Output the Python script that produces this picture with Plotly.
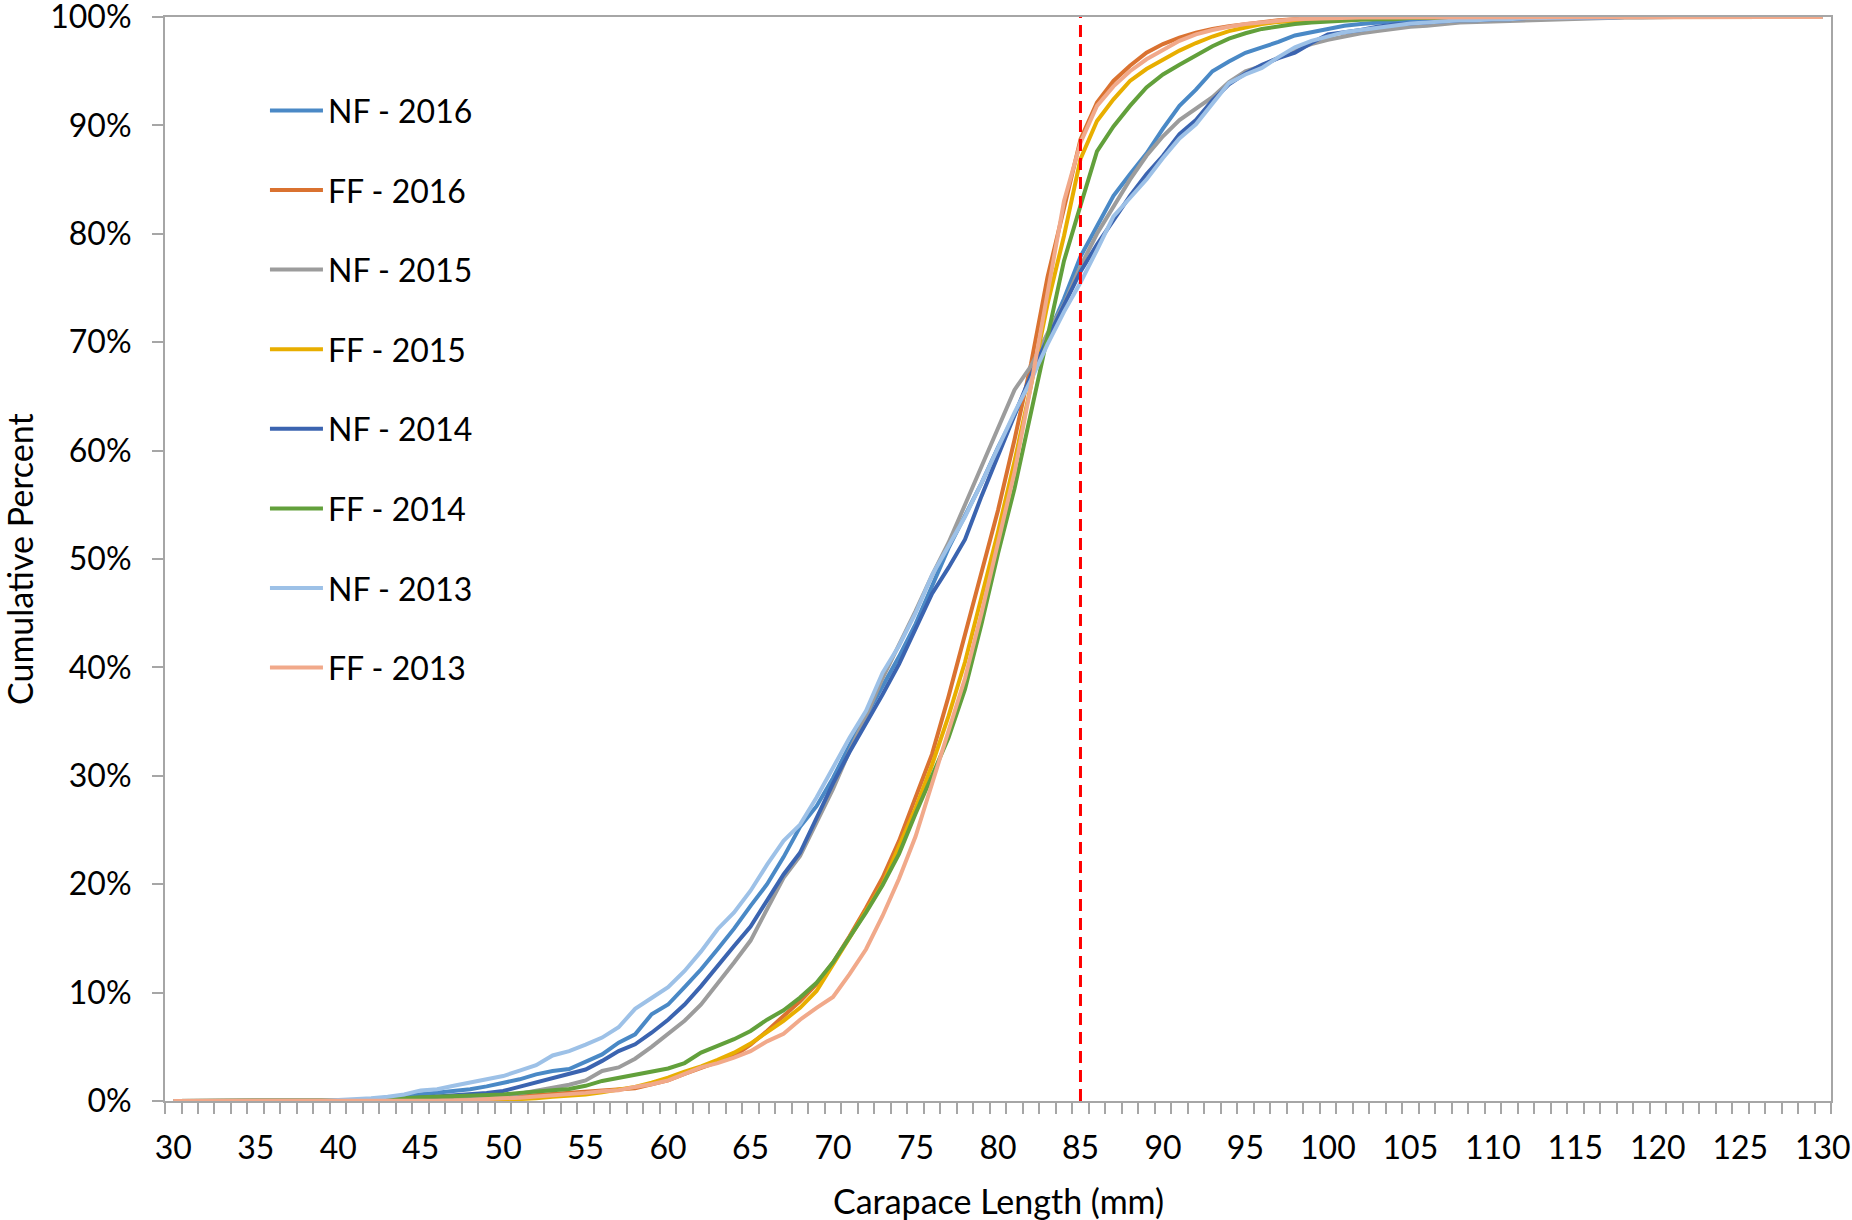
import plotly.graph_objects as go

x_vals = list(range(30, 131))

def fill(d):
    # d: dict of x -> value; x values not listed repeat the previous reading
    out = []
    last = 0.0
    for x in x_vals:
        if x in d:
            last = d[x]
        out.append(last)
    return out

nf_2016 = fill({30: 0, 40: 0.05, 41: 0.1, 42: 0.15, 43: 0.3, 44: 0.45, 45: 0.68, 46: 0.77, 47: 0.9, 48: 1.08,
                49: 1.35, 50: 1.69, 51: 2.0, 52: 2.46, 53: 2.77, 54: 2.95, 55: 3.6, 56: 4.3, 57: 5.38, 58: 6.15,
                59: 8.0, 60: 8.9, 61: 10.5, 62: 12.15, 63: 14.0, 64: 15.9, 65: 18.0, 66: 20.0, 67: 22.5, 68: 25.3,
                69: 27.2, 70: 29.8, 71: 32.8, 72: 35.5, 73: 38.3, 74: 41.0, 75: 44.0, 76: 47.5, 77: 51.0, 78: 54.0,
                79: 57.0, 80: 60.3, 81: 63.3, 82: 66.7, 83: 70.5, 84: 74.0, 85: 77.9, 86: 80.7, 87: 83.5, 88: 85.5,
                89: 87.4, 90: 89.7, 91: 91.8, 92: 93.3, 93: 95.0, 94: 95.9, 95: 96.7, 96: 97.2, 97: 97.7, 98: 98.3,
                99: 98.6, 100: 98.9, 101: 99.2, 102: 99.35, 103: 99.5, 104: 99.6, 105: 99.7, 106: 99.75, 107: 99.8,
                108: 99.85, 110: 99.9, 112: 99.95, 115: 100})

ff_2016 = fill({30: 0, 45: 0.05, 47: 0.1, 48: 0.15, 49: 0.2, 50: 0.3, 51: 0.45, 52: 0.55, 53: 0.65, 54: 0.75,
                55: 0.85, 56: 0.95, 57: 1.08, 58: 1.17, 59: 1.54, 60: 1.9, 61: 2.5, 62: 3.08, 63: 3.6, 64: 4.15,
                65: 5.2, 66: 6.46, 67: 7.85, 68: 9.2, 69: 10.77, 70: 12.77, 71: 15.2, 72: 17.8, 73: 20.6, 74: 24.0,
                75: 28.0, 76: 32.0, 77: 37.3, 78: 43.0, 79: 49.0, 80: 54.5, 81: 61.0, 82: 68.0, 83: 76.0, 84: 82.5,
                85: 88.7, 86: 92.1, 87: 94.1, 88: 95.5, 89: 96.7, 90: 97.5, 91: 98.1, 92: 98.55, 93: 98.9, 94: 99.15,
                95: 99.35, 96: 99.55, 97: 99.7, 98: 99.8, 99: 99.85, 100: 99.9, 102: 99.95, 105: 100})

nf_2015 = fill({30: 0, 45: 0.1, 46: 0.15, 47: 0.2, 48: 0.3, 49: 0.4, 50: 0.46, 51: 0.68, 52: 0.95, 53: 1.23,
                54: 1.5, 55: 1.9, 56: 2.77, 57: 3.1, 58: 3.9, 59: 5.0, 60: 6.15, 61: 7.4, 62: 8.9, 63: 10.77,
                64: 12.77, 65: 14.8, 66: 17.8, 67: 20.6, 68: 22.6, 69: 25.8, 70: 28.8, 71: 32.3, 72: 35.5, 73: 39.0,
                74: 42.0, 75: 45.2, 76: 48.5, 77: 51.5, 78: 55.0, 79: 58.5, 80: 62.0, 81: 65.6, 82: 67.8, 83: 70.8,
                84: 73.5, 85: 77.0, 86: 80.0, 87: 82.5, 88: 85.0, 89: 87.2, 90: 89.0, 91: 90.5, 92: 91.5, 93: 92.6,
                94: 94.0, 95: 95.0, 96: 95.5, 97: 96.3, 98: 97.0, 99: 97.5, 100: 97.9, 101: 98.2, 102: 98.5,
                103: 98.7, 104: 98.9, 105: 99.1, 106: 99.2, 107: 99.35, 108: 99.5, 109: 99.55, 110: 99.6,
                112: 99.7, 114: 99.8, 116: 99.9, 118: 99.95, 120: 100})

ff_2015 = fill({30: 0, 48: 0.05, 50: 0.1, 51: 0.15, 52: 0.25, 53: 0.4, 54: 0.46, 55: 0.6, 56: 0.8, 57: 1.08,
                58: 1.3, 59: 1.7, 60: 2.15, 61: 2.7, 62: 3.2, 63: 3.8, 64: 4.46, 65: 5.3, 66: 6.3, 67: 7.4, 68: 8.6,
                69: 10.15, 70: 12.6, 71: 15.1, 72: 17.5, 73: 20.0, 74: 23.5, 75: 27.0, 76: 31.0, 77: 35.5, 78: 40.5,
                79: 46.5, 80: 52.5, 81: 59.0, 82: 66.0, 83: 73.5, 84: 79.8, 85: 86.9, 86: 90.4, 87: 92.4, 88: 94.1,
                89: 95.2, 90: 96.1, 91: 96.9, 92: 97.6, 93: 98.2, 94: 98.7, 95: 99.05, 96: 99.35, 97: 99.55,
                98: 99.65, 99: 99.75, 100: 99.85, 102: 99.9, 104: 99.95, 106: 100})

nf_2014 = fill({30: 0, 42: 0.05, 43: 0.1, 44: 0.2, 45: 0.3, 46: 0.46, 47: 0.5, 48: 0.6, 49: 0.75, 50: 0.92,
                51: 1.3, 52: 1.69, 53: 2.09, 54: 2.5, 55: 2.9, 56: 3.7, 57: 4.6, 58: 5.23, 59: 6.3, 60: 7.5, 61: 8.9,
                62: 10.6, 63: 12.5, 64: 14.3, 65: 16.1, 66: 18.5, 67: 20.9, 68: 22.9, 69: 26.2, 70: 29.3, 71: 32.2,
                72: 34.8, 73: 37.5, 74: 40.3, 75: 43.5, 76: 46.8, 77: 49.2, 78: 51.8, 79: 55.8, 80: 59.5, 81: 63.2,
                82: 67.0, 83: 70.3, 84: 73.5, 85: 76.5, 86: 79.0, 87: 81.3, 88: 83.5, 89: 85.5, 90: 87.2, 91: 89.2,
                92: 90.5, 93: 92.3, 94: 93.8, 95: 94.8, 96: 95.6, 97: 96.2, 98: 96.7, 99: 97.6, 100: 98.4,
                101: 98.6, 102: 98.8, 103: 99.1, 104: 99.3, 105: 99.4, 106: 99.5, 107: 99.6, 108: 99.7,
                110: 99.8, 112: 99.9, 115: 99.95, 118: 100})

ff_2014 = fill({30: 0, 41: 0.05, 42: 0.1, 43: 0.15, 44: 0.25, 45: 0.35, 46: 0.4, 47: 0.45, 48: 0.5, 49: 0.55,
                50: 0.6, 51: 0.75, 52: 0.9, 53: 1.0, 54: 1.1, 55: 1.4, 56: 1.85, 57: 2.15, 58: 2.37, 59: 2.68,
                60: 3.0, 61: 3.5, 62: 4.46, 63: 5.08, 64: 5.7, 65: 6.46, 66: 7.5, 67: 8.37, 68: 9.54, 69: 10.9,
                70: 12.8, 71: 15.1, 72: 17.4, 73: 19.9, 74: 22.8, 75: 26.5, 76: 30.0, 77: 33.5, 78: 38.0, 79: 44.0,
                80: 50.5, 81: 56.5, 82: 63.5, 83: 70.5, 84: 77.5, 85: 82.6, 86: 87.6, 87: 89.9, 88: 91.8, 89: 93.5,
                90: 94.7, 91: 95.6, 92: 96.5, 93: 97.3, 94: 98.0, 95: 98.5, 96: 98.9, 97: 99.15, 98: 99.35,
                99: 99.5, 100: 99.6, 101: 99.7, 102: 99.75, 103: 99.8, 105: 99.9, 107: 99.95, 110: 100})

nf_2013 = fill({30: 0, 40: 0.1, 41: 0.15, 42: 0.25, 43: 0.4, 44: 0.6, 45: 0.98, 46: 1.08, 47: 1.4, 48: 1.69,
                49: 2.0, 50: 2.3, 51: 2.8, 52: 3.3, 53: 4.2, 54: 4.6, 55: 5.2, 56: 5.85, 57: 6.8, 58: 8.5, 59: 9.5,
                60: 10.5, 61: 12.0, 62: 13.8, 63: 15.85, 64: 17.4, 65: 19.4, 66: 21.8, 67: 24.0, 68: 25.5, 69: 28.0,
                70: 30.8, 71: 33.5, 72: 36.0, 73: 39.5, 74: 42.0, 75: 45.0, 76: 48.5, 77: 51.2, 78: 53.9, 79: 57.0,
                80: 60.3, 81: 63.5, 82: 66.5, 83: 69.8, 84: 72.8, 85: 75.5, 86: 78.5, 87: 81.6, 88: 83.3, 89: 85.0,
                90: 87.0, 91: 88.8, 92: 90.1, 93: 92.0, 94: 93.9, 95: 94.7, 96: 95.3, 97: 96.3, 98: 97.2, 99: 97.8,
                100: 98.2, 101: 98.6, 102: 98.8, 103: 99.0, 104: 99.2, 105: 99.4, 106: 99.5, 107: 99.6,
                108: 99.7, 110: 99.8, 112: 99.9, 115: 99.95, 118: 100})

ff_2013 = fill({30: 0, 46: 0.05, 48: 0.1, 49: 0.2, 50: 0.25, 51: 0.3, 52: 0.4, 53: 0.46, 54: 0.6, 55: 0.75,
                56: 0.9, 57: 1.0, 58: 1.3, 59: 1.54, 60: 1.9, 61: 2.5, 62: 3.1, 63: 3.5, 64: 4.0, 65: 4.6, 66: 5.5,
                67: 6.2, 68: 7.5, 69: 8.6, 70: 9.6, 71: 11.7, 72: 14.0, 73: 17.07, 74: 20.5, 75: 24.4, 76: 29.3,
                77: 33.9, 78: 39.0, 79: 45.0, 80: 51.5, 81: 58.0, 82: 66.0, 83: 74.5, 84: 83.0, 85: 88.4, 86: 91.8,
                87: 93.6, 88: 95.0, 89: 96.1, 90: 97.0, 91: 97.8, 92: 98.4, 93: 98.8, 94: 99.1, 95: 99.35,
                96: 99.5, 97: 99.65, 98: 99.8, 99: 99.85, 100: 99.9, 102: 99.95, 105: 100})

series_names = ["NF - 2016", "FF - 2016", "NF - 2015", "FF - 2015", "NF - 2014", "FF - 2014", "NF - 2013", "FF - 2013"]
series_values = [nf_2016, ff_2016, nf_2015, ff_2015, nf_2014, ff_2014, nf_2013, ff_2013]
series_colors = ["#4A89C6", "#DA7230", "#9C9C9C", "#E8AE00", "#3B64B0", "#62A03B", "#9DC1E7", "#F1A98A"]

ref_x = [85, 85]
ref_y = [0, 100]

x_tick_vals = list(range(30, 131, 5))
y_tick_vals = list(range(0, 101, 10))

FONT = "Lato"
FS = 32
TITLE_FS = 34
AXIS_COLOR = "#A6A6A6"

fig = go.Figure()
for i, (name, vals, col) in enumerate(zip(series_names, series_values, series_colors)):
    fig.add_trace(go.Scatter(x=x_vals, y=vals, mode="lines", name=name,
                             line=dict(color=col, width=4), legendgroup="g%d" % i))

fig.add_trace(go.Scatter(x=ref_x, y=ref_y, mode="lines", showlegend=False,
                         line=dict(color="#FF0000", width=3, dash="12px,7px")))

fig.update_layout(
    width=1852, height=1220,
    margin=dict(l=165, r=21, t=17, b=119),
    paper_bgcolor="white", plot_bgcolor="white",
    font=dict(family=FONT, size=FS, color="#000000"),
    showlegend=True,
    legend=dict(x=0.060, y=0.939, xanchor="left", yanchor="top",
                bgcolor="rgba(0,0,0,0)", font=dict(family=FONT, size=FS, color="#000000"),
                tracegroupgap=35, itemwidth=53),
    xaxis=dict(range=[29.5, 130.5], tickmode="array", tickvals=x_tick_vals,
               ticks="", showgrid=False, zeroline=False, automargin=False,
               showline=True, linecolor=AXIS_COLOR, linewidth=2, mirror=True,
               ticklabelstandoff=18, ticklabeloverflow="allow",
               tickfont=dict(family=FONT, size=FS, color="#000000"),
               minor=dict(tick0=29.5, dtick=1, ticks="outside", ticklen=11,
                          tickcolor=AXIS_COLOR, tickwidth=2, showgrid=False)),
    yaxis=dict(range=[0, 100], tickmode="array", tickvals=y_tick_vals,
               ticktext=["%d%%" % v for v in y_tick_vals],
               ticks="outside", ticklen=11, tickcolor=AXIS_COLOR, tickwidth=2,
               showgrid=False, zeroline=False, automargin=False,
               showline=True, linecolor=AXIS_COLOR, linewidth=2, mirror=True,
               ticklabelstandoff=14, ticklabeloverflow="allow",
               tickfont=dict(family=FONT, size=FS, color="#000000")),
    annotations=[
        dict(text="Carapace Length (mm)", xref="paper", yref="paper", x=0.5, y=0,
             xanchor="center", yanchor="middle", yshift=-99, showarrow=False,
             font=dict(family=FONT, size=TITLE_FS, color="#000000")),
        dict(text="Cumulative Percent", xref="paper", yref="paper", x=0, y=0.5,
             xanchor="center", yanchor="middle", xshift=-146, textangle=-90, showarrow=False,
             font=dict(family=FONT, size=TITLE_FS, color="#000000")),
    ],
)

fig.write_html("out.html")
